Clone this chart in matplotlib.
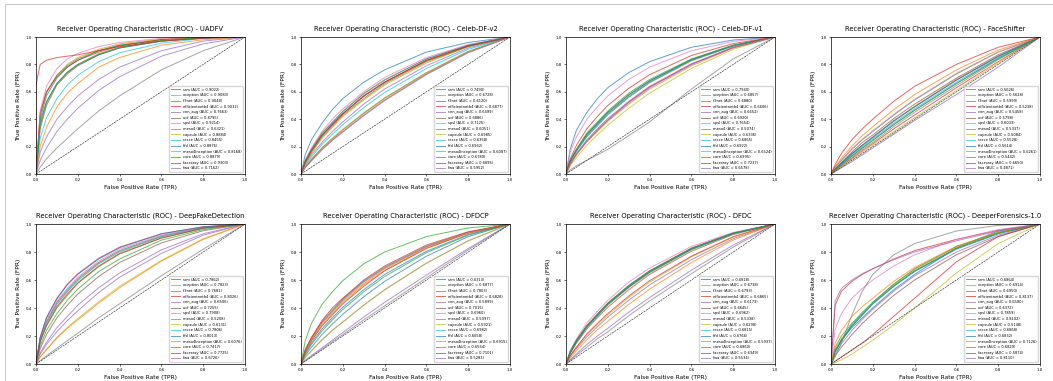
import matplotlib
matplotlib.use("Agg")
import matplotlib.pyplot as plt
from matplotlib.lines import Line2D

models = ['srm', 'xception', 'f3net', 'efficientnetb4', 'cnn_aug', 'ucf', 'spsl', 'meso4',
          'capsule', 'recce', 'ffd', 'meso4Inception', 'core', 'facexray', 'fwa']

fpr_grid = [0, 0.02, 0.05, 0.1, 0.15, 0.2, 0.3, 0.4, 0.6, 0.8, 1.0]

uadfv_auc = [0.9022, 0.9083, 0.9048, 0.9032, 0.7663, 0.8795, 0.9214, 0.6321,
             0.8884, 0.8455, 0.8876, 0.8168, 0.8879, 0.9303, 0.7162]
uadfv_tpr = [
    [0, .40, .57, .70, .78, .83, .90, .94, .98, .996, 1],
    [0, .42, .59, .72, .80, .85, .91, .95, .985, .997, 1],
    [0, .43, .60, .72, .79, .84, .90, .94, .98, .995, 1],
    [0, .45, .60, .71, .78, .83, .89, .935, .98, .995, 1],
    [0, .16, .27, .40, .49, .57, .69, .78, .90, .97, 1],
    [0, .33, .50, .65, .73, .79, .87, .92, .97, .994, 1],
    [0, .46, .64, .77, .84, .88, .93, .96, .99, 1.0, 1],
    [0, .05, .11, .19, .26, .33, .46, .57, .76, .90, 1],
    [0, .36, .52, .66, .74, .80, .88, .925, .975, .995, 1],
    [0, .26, .41, .55, .65, .72, .82, .885, .955, .99, 1],
    [0, .38, .53, .66, .74, .795, .87, .92, .97, .994, 1],
    [0, .20, .34, .49, .59, .66, .78, .85, .94, .98, 1],
    [0, .35, .52, .66, .745, .80, .875, .925, .972, .994, 1],
    [.65, .80, .83, .85, .86, .87, .90, .93, .97, .99, 1],
    [0, .10, .19, .31, .40, .48, .61, .71, .86, .95, 1],
]

celebv2_auc = [0.7490, 0.6728, 0.6120, 0.6877, 0.6499, 0.6886, 0.7125, 0.6051,
               0.6985, 0.6358, 0.6962, 0.6087, 0.6789, 0.6895, 0.5952]
celebv2_tpr = [
    [0, .14, .25, .37, .47, .55, .67, .76, .89, .96, 1],
    [0, .08, .15, .26, .34, .42, .54, .65, .81, .93, 1],
    [0, .05, .105, .19, .26, .325, .445, .555, .74, .895, 1],
    [0, .085, .17, .28, .36, .44, .565, .67, .83, .935, 1],
    [0, .07, .14, .23, .31, .38, .51, .62, .79, .92, 1],
    [0, .09, .175, .285, .365, .44, .57, .67, .825, .935, 1],
    [0, .10, .19, .31, .40, .475, .60, .705, .85, .945, 1],
    [0, .05, .10, .18, .25, .31, .43, .54, .73, .89, 1],
    [0, .10, .18, .30, .38, .46, .59, .69, .84, .94, 1],
    [0, .06, .125, .215, .29, .36, .485, .595, .77, .91, 1],
    [0, .095, .18, .295, .375, .455, .585, .685, .84, .94, 1],
    [0, .055, .11, .19, .255, .32, .44, .55, .735, .89, 1],
    [0, .08, .16, .27, .35, .43, .55, .66, .82, .93, 1],
    [0, .09, .17, .28, .36, .44, .57, .67, .83, .935, 1],
    [0, .045, .095, .175, .245, .305, .425, .535, .725, .885, 1],
]

celebv1_auc = [0.7940, 0.6857, 0.6880, 0.6606, 0.6652, 0.6920, 0.7654, 0.5074,
               0.6336, 0.6865, 0.6922, 0.6524, 0.6995, 0.7237, 0.6578]
celebv1_tpr = [
    [0, .18, .32, .45, .55, .63, .74, .82, .925, .978, 1],
    [0, .085, .165, .275, .355, .435, .56, .665, .825, .935, 1],
    [0, .09, .17, .28, .36, .44, .565, .67, .83, .935, 1],
    [0, .07, .145, .24, .32, .395, .525, .635, .80, .925, 1],
    [0, .075, .15, .25, .33, .405, .53, .64, .805, .925, 1],
    [0, .09, .175, .29, .37, .45, .58, .68, .835, .938, 1],
    [0, .16, .27, .40, .49, .57, .69, .78, .90, .968, 1],
    [0, .03, .06, .10, .14, .18, .28, .38, .62, .84, 1],
    [0, .06, .12, .21, .285, .355, .48, .59, .77, .91, 1],
    [0, .09, .17, .27, .35, .43, .56, .67, .83, .935, 1],
    [0, .095, .18, .29, .37, .45, .575, .68, .835, .94, 1],
    [0, .07, .14, .235, .31, .385, .51, .62, .79, .92, 1],
    [0, .10, .18, .30, .38, .46, .59, .69, .84, .94, 1],
    [0, .11, .21, .33, .42, .50, .625, .725, .865, .952, 1],
    [0, .07, .145, .24, .32, .39, .52, .63, .80, .92, 1],
]

faceshifter_auc = [0.5626, 0.5628, 0.5999, 0.5238, 0.5458, 0.5798, 0.6033, 0.5337,
                   0.5084, 0.5528, 0.5614, 0.6261, 0.5442, 0.6650, 0.4871]
faceshifter_tpr = [
    [0, .035, .08, .15, .21, .27, .39, .49, .685, .86, 1],
    [0, .03, .075, .145, .21, .265, .385, .495, .69, .86, 1],
    [0, .05, .10, .18, .25, .31, .43, .54, .73, .89, 1],
    [0, .024, .058, .113, .17, .22, .33, .43, .63, .82, 1],
    [0, .03, .07, .13, .19, .245, .36, .465, .66, .845, 1],
    [0, .04, .085, .16, .23, .285, .405, .51, .70, .87, 1],
    [0, .05, .10, .185, .255, .315, .435, .545, .735, .89, 1],
    [0, .025, .063, .12, .18, .23, .345, .45, .645, .835, 1],
    [0, .022, .055, .105, .16, .21, .31, .41, .61, .81, 1],
    [0, .032, .072, .14, .20, .255, .37, .475, .67, .85, 1],
    [0, .035, .078, .148, .21, .268, .385, .49, .685, .858, 1],
    [0, .055, .115, .205, .28, .345, .47, .58, .76, .905, 1],
    [0, .03, .07, .13, .19, .245, .36, .465, .66, .84, 1],
    [0, .07, .15, .25, .33, .40, .53, .64, .80, .925, 1],
    [0, .018, .045, .09, .14, .19, .29, .39, .58, .78, 1],
]

dfd_auc = [0.7862, 0.7823, 0.7681, 0.8026, 0.6506, 0.7255, 0.7908, 0.5208,
           0.6131, 0.7806, 0.8013, 0.6076, 0.7417, 0.7725, 0.6726]
dfd_tpr = [
    [0, .17, .30, .44, .53, .61, .725, .81, .915, .975, 1],
    [0, .17, .295, .43, .52, .60, .72, .805, .91, .973, 1],
    [0, .16, .27, .40, .49, .575, .695, .785, .90, .968, 1],
    [0, .19, .33, .47, .57, .645, .755, .835, .93, .98, 1],
    [0, .07, .14, .23, .31, .38, .51, .62, .79, .92, 1],
    [0, .11, .21, .33, .42, .50, .625, .725, .865, .952, 1],
    [0, .18, .31, .45, .54, .62, .735, .82, .92, .977, 1],
    [0, .024, .058, .113, .167, .22, .33, .43, .63, .82, 1],
    [0, .05, .105, .19, .26, .325, .445, .555, .74, .895, 1],
    [0, .165, .29, .425, .515, .595, .715, .80, .91, .972, 1],
    [0, .19, .33, .465, .565, .64, .75, .83, .93, .98, 1],
    [0, .05, .10, .185, .255, .315, .435, .545, .735, .89, 1],
    [0, .13, .24, .36, .455, .535, .66, .75, .885, .96, 1],
    [0, .16, .275, .41, .50, .58, .70, .79, .90, .97, 1],
    [0, .08, .155, .26, .34, .42, .545, .65, .815, .93, 1],
]

dfdcp_auc = [0.6313, 0.6877, 0.7803, 0.6828, 0.5899, 0.7015, 0.6960, 0.5097,
             0.5921, 0.6982, 0.6658, 0.6915, 0.6554, 0.7101, 0.5283]
dfdcp_tpr = [
    [0, .06, .12, .21, .285, .355, .48, .59, .77, .91, 1],
    [0, .085, .17, .28, .36, .44, .565, .67, .83, .935, 1],
    [0, .165, .29, .425, .515, .595, .715, .80, .91, .972, 1],
    [0, .085, .165, .27, .35, .43, .555, .665, .825, .935, 1],
    [0, .045, .095, .17, .24, .30, .42, .53, .72, .88, 1],
    [0, .10, .185, .30, .385, .465, .59, .69, .84, .94, 1],
    [0, .095, .18, .295, .375, .455, .585, .685, .84, .94, 1],
    [0, .022, .055, .105, .16, .21, .315, .415, .615, .815, 1],
    [0, .045, .095, .175, .24, .30, .42, .53, .72, .88, 1],
    [0, .10, .18, .30, .38, .46, .59, .69, .84, .94, 1],
    [0, .075, .15, .25, .33, .405, .53, .64, .805, .925, 1],
    [0, .09, .175, .29, .37, .45, .575, .68, .835, .938, 1],
    [0, .07, .14, .235, .315, .39, .515, .625, .795, .92, 1],
    [0, .10, .19, .31, .40, .47, .60, .70, .85, .945, 1],
    [0, .026, .06, .115, .17, .225, .335, .44, .635, .825, 1],
]

dfdc_auc = [0.6818, 0.6738, 0.6793, 0.6865, 0.6173, 0.6645, 0.6962, 0.5338,
            0.6298, 0.6815, 0.6766, 0.5937, 0.6860, 0.6349, 0.5534]
dfdc_tpr = [
    [0, .085, .165, .27, .35, .43, .555, .66, .825, .935, 1],
    [0, .08, .155, .26, .34, .42, .545, .65, .815, .93, 1],
    [0, .08, .16, .27, .35, .43, .55, .66, .82, .932, 1],
    [0, .09, .17, .275, .355, .435, .56, .665, .827, .935, 1],
    [0, .055, .11, .195, .265, .335, .455, .565, .745, .895, 1],
    [0, .075, .15, .25, .33, .405, .53, .64, .805, .925, 1],
    [0, .095, .18, .295, .375, .455, .585, .685, .84, .94, 1],
    [0, .025, .063, .12, .18, .23, .345, .45, .645, .835, 1],
    [0, .06, .12, .21, .28, .35, .475, .585, .765, .905, 1],
    [0, .085, .165, .27, .35, .43, .555, .66, .822, .934, 1],
    [0, .08, .16, .265, .345, .425, .55, .655, .82, .932, 1],
    [0, .045, .095, .175, .245, .305, .425, .535, .725, .885, 1],
    [0, .09, .17, .275, .355, .435, .56, .665, .827, .935, 1],
    [0, .06, .12, .215, .29, .36, .485, .595, .77, .91, 1],
    [0, .032, .072, .14, .20, .255, .37, .475, .67, .85, 1],
]

dfo_auc = [0.6864, 0.6914, 0.6950, 0.8137, 0.6580, 0.6372, 0.7859, 0.8102,
           0.5148, 0.6868, 0.6832, 0.7126, 0.6829, 0.5874, 0.8110]
dfo_tpr = [
    [0, .10, .17, .26, .33, .40, .53, .64, .83, .95, 1],
    [0, .10, .18, .28, .36, .44, .57, .675, .835, .94, 1],
    [0, .12, .20, .29, .37, .44, .57, .68, .84, .94, 1],
    [0, .42, .52, .59, .64, .68, .75, .81, .89, .955, 1],
    [0, .07, .145, .24, .32, .39, .52, .63, .80, .92, 1],
    [0, .06, .12, .21, .29, .36, .49, .60, .78, .91, 1],
    [0, .25, .36, .47, .54, .60, .70, .78, .89, .96, 1],
    [0, .05, .15, .35, .52, .64, .78, .86, .95, .99, 1],
    [0, .01, .03, .07, .12, .17, .28, .40, .65, .86, 1],
    [0, .09, .17, .28, .36, .44, .56, .665, .825, .935, 1],
    [0, .09, .17, .27, .35, .43, .555, .66, .82, .93, 1],
    [0, .15, .24, .34, .41, .47, .59, .69, .84, .94, 1],
    [0, .085, .165, .27, .35, .43, .555, .665, .825, .935, 1],
    [0, .02, .05, .10, .15, .21, .34, .47, .73, .91, 1],
    [0, .45, .54, .60, .645, .68, .745, .80, .88, .95, 1],
]

datasets = [
    ('UADFV', uadfv_auc, uadfv_tpr),
    ('Celeb-DF-v2', celebv2_auc, celebv2_tpr),
    ('Celeb-DF-v1', celebv1_auc, celebv1_tpr),
    ('FaceShifter', faceshifter_auc, faceshifter_tpr),
    ('DeepFakeDetection', dfd_auc, dfd_tpr),
    ('DFDCP', dfdcp_auc, dfdcp_tpr),
    ('DFDC', dfdc_auc, dfdc_tpr),
    ('DeeperForensics-1.0', dfo_auc, dfo_tpr),
]

W, H = 1053, 381
fig = plt.figure(figsize=(W / 100, H / 100), dpi=100)

# light frame around the figure (left and top edges)
fig.add_artist(Line2D([5 / W, 5 / W], [0, 1 - 4 / H], color='#cccccc', lw=0.8))
fig.add_artist(Line2D([5 / W, 1], [1 - 4 / H, 1 - 4 / H], color='#cccccc', lw=0.8))

colors = plt.rcParams['axes.prop_cycle'].by_key()['color']
ax_left = [36, 301, 566, 831]
ax_top = [37, 224]
ax_bottom = [174, 364]
ax_width = 209

for i, (name, aucs, tprs) in enumerate(datasets):
    row, col = divmod(i, 4)
    rect = [ax_left[col] / W, 1 - ax_bottom[row] / H, ax_width / W,
            (ax_bottom[row] - ax_top[row]) / H]
    ax = fig.add_axes(rect)
    for j, m in enumerate(models):
        ax.plot([0] + fpr_grid, [0] + tprs[j], color=colors[j % 10], lw=0.7, alpha=0.7,
                label=f'{m} (AUC = {aucs[j]:.4f})')
    ax.plot([0, 1], [0, 1], color='#444444', ls='--', dashes=(3, 1.2), lw=0.5)
    ax.set_xlim(0, 1)
    ax.set_ylim(0, 1)
    ax.set_xticks([0, 0.2, 0.4, 0.6, 0.8, 1.0])
    ax.set_yticks([0, 0.2, 0.4, 0.6, 0.8, 1.0])
    ax.tick_params(labelsize=2.8, length=1.5, width=0.4, pad=1.5)
    for s in ax.spines.values():
        s.set_linewidth(0.5)
    ax.set_xlabel('False Positive Rate (TPR)', fontsize=4.2, labelpad=2)
    ax.set_ylabel('True Positive Rate (FPR)', fontsize=4.2, labelpad=3)
    ax.set_title(f'Receiver Operating Characteristic (ROC) - {name}', fontsize=4.9, pad=5)
    ax.legend(loc='lower right', fontsize=2.6, labelspacing=0.45, handlelength=2.4,
              borderpad=0.5, framealpha=0.8, edgecolor='#cccccc', fancybox=True)

fig.savefig('out.png', dpi=100)
